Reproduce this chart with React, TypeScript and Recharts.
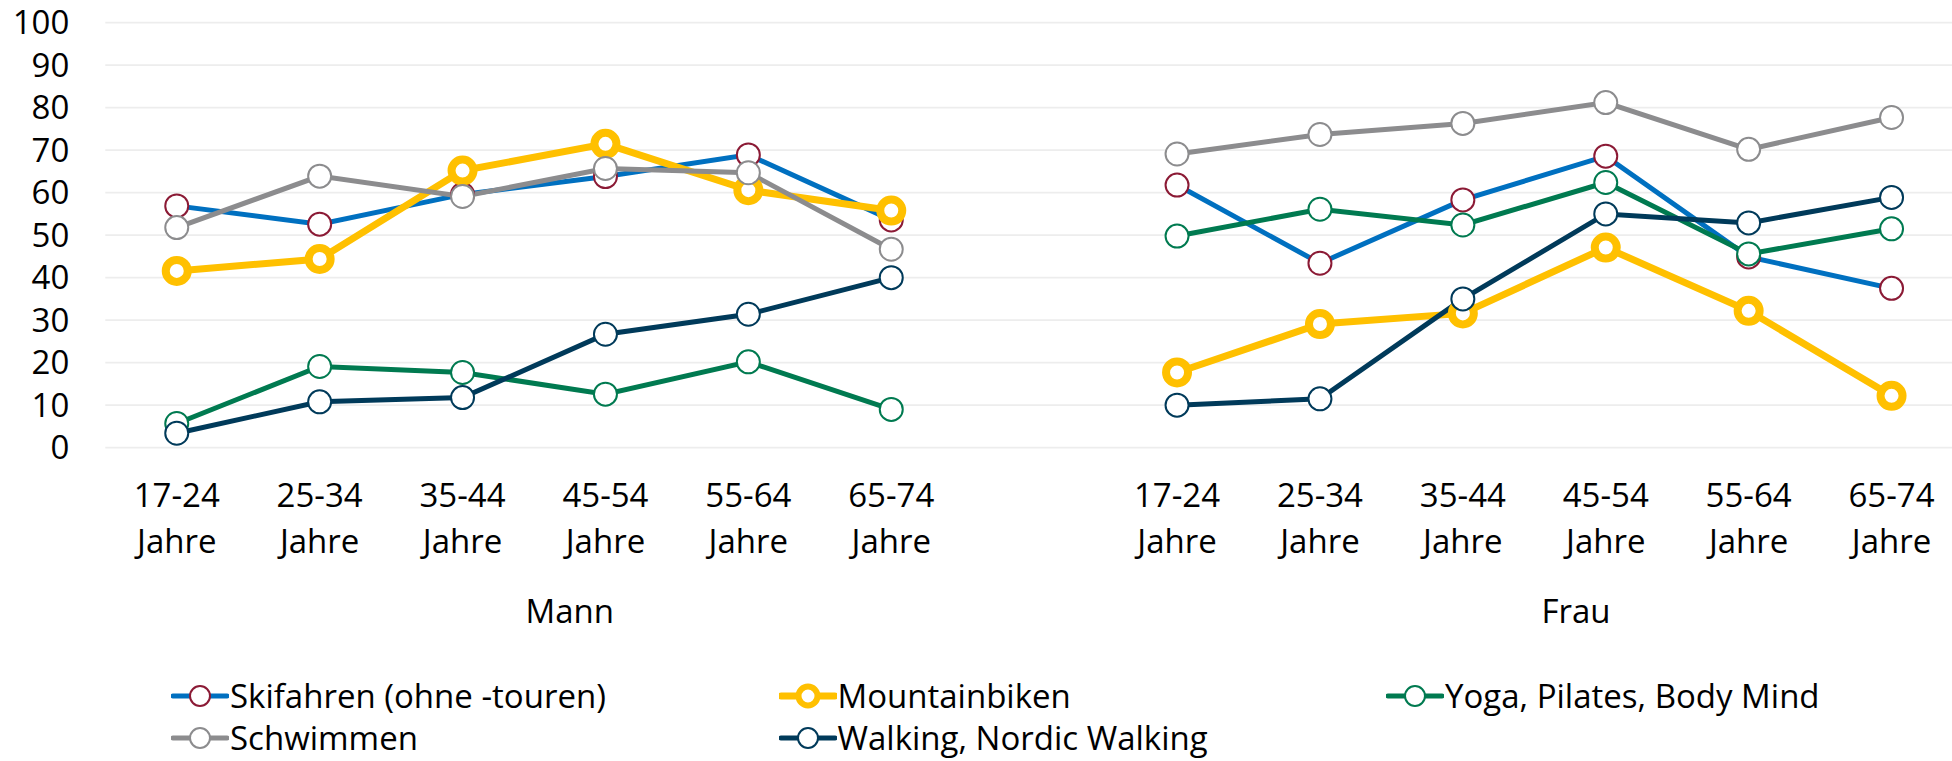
import React from 'react';
import { LineChart, Line, XAxis, YAxis, CartesianGrid, Legend } from 'recharts';

// ---------- data ----------
const genders = ['Mann', 'Frau'];
const ageGroups = ['17-24 Jahre', '25-34 Jahre', '35-44 Jahre', '45-54 Jahre', '55-64 Jahre', '65-74 Jahre'];
const yTicks = [0, 10, 20, 30, 40, 50, 60, 70, 80, 90, 100];

const skifahrenMann = [56.9, 52.6, 59.6, 63.8, 68.9, 53.6];
const skifahrenFrau = [61.8, 43.4, 58.3, 68.6, 44.9, 37.5];
const mountainbikenMann = [41.6, 44.4, 65.2, 71.5, 60.6, 55.8];
const mountainbikenFrau = [17.7, 29.1, 31.6, 47.1, 32.2, 12.2];
const yogaMann = [5.7, 19.1, 17.7, 12.6, 20.2, 9.0];
const yogaFrau = [49.8, 56.1, 52.4, 62.4, 45.6, 51.5];
const schwimmenMann = [51.8, 63.9, 59.1, 65.7, 64.7, 46.7];
const schwimmenFrau = [69.1, 73.7, 76.3, 81.2, 70.2, 77.7];
const walkingMann = [3.4, 10.8, 11.8, 26.7, 31.4, 40.0];
const walkingFrau = [10.0, 11.5, 35.0, 55.0, 52.9, 58.9];

const seriesNames = [
  'Skifahren (ohne -touren)',
  'Mountainbiken',
  'Yoga, Pilates, Body Mind',
  'Schwimmen',
  'Walking, Nordic Walking',
];
const seriesValues: Record<string, number[][]> = {
  'Skifahren (ohne -touren)': [skifahrenMann, skifahrenFrau],
  'Mountainbiken': [mountainbikenMann, mountainbikenFrau],
  'Yoga, Pilates, Body Mind': [yogaMann, yogaFrau],
  'Schwimmen': [schwimmenMann, schwimmenFrau],
  'Walking, Nordic Walking': [walkingMann, walkingFrau],
};

// ---------- styles ----------
const FONT = "'Open Sans', sans-serif";
const FS = 33;
const styles: Record<string, { line: string; marker: string; width: number; r: number; mw: number }> = {
  'Skifahren (ohne -touren)': { line: '#0070C0', marker: '#8B1A35', width: 5, r: 11.5, mw: 2 },
  'Mountainbiken': { line: '#FFC000', marker: '#FFC000', width: 7, r: 11, mw: 8 },
  'Yoga, Pilates, Body Mind': { line: '#007A50', marker: '#007A50', width: 5, r: 11.5, mw: 2 },
  'Schwimmen': { line: '#8C8C8E', marker: '#8C8C8E', width: 5, r: 11.5, mw: 2 },
  'Walking, Nordic Walking': { line: '#003A5A', marker: '#003A5A', width: 5, r: 11.5, mw: 2 },
};

// ---------- table ----------
type Row = Record<string, any>;
const table: Row[] = [];
const groupRanges: { name: string; start: number; end: number }[] = [];
genders.forEach((g, gi) => {
  const start = table.length;
  ageGroups.forEach((age, ai) => {
    const row: Row = { key: `${g}|${age}`, age };
    seriesNames.forEach((s) => {
      row[s] = seriesValues[s][gi][ai];
    });
    table.push(row);
  });
  if (gi < genders.length - 1) {
    const gap: Row = { key: `${g}|gap`, age: '' };
    seriesNames.forEach((s) => (gap[s] = null));
    table.push(gap);
  }
  groupRanges.push({ name: g, start, end: table.length - 1 });
});
const groupCenters = groupRanges.map((r) => (r.start + r.end) / 2);

const AgeTick = (props: any) => {
  const { x, y, payload } = props;
  const row = table.find((r) => r.key === payload.value);
  if (!row || !row.age) return null;
  const parts = String(row.age).split(' ');
  return (
    <text x={x} y={y} textAnchor="middle" fontSize={FS} fill="#000" fontFamily={FONT}>
      <tspan x={x} dy={59}>{parts[0]}</tspan>
      <tspan x={x} dy={46}>{parts[1]}</tspan>
    </text>
  );
};

const GroupTick = (props: any) => {
  const { x, y, payload } = props;
  const idx = groupCenters.indexOf(payload.value);
  if (idx < 0) return null;
  return (
    <text x={x} y={y + 25} textAnchor="middle" fontSize={FS} fill="#000" fontFamily={FONT}>
      {groupRanges[idx].name}
    </text>
  );
};

const LegendContent = () => (
  <div style={{ position: 'relative', height: 76, width: 1952, fontFamily: FONT }}>
    {seriesNames.map((s, i) => {
      const st = styles[s];
      return (
        <div
          key={s}
          style={{
            position: 'absolute',
            left: 171 + (i % 3) * 607.5,
            top: Math.floor(i / 3) * 42,
            height: 34,
            display: 'flex',
            alignItems: 'center',
            whiteSpace: 'nowrap',
          }}
        >
          <svg width={58} height={30} style={{ display: 'block' }}>
            <line x1={2} y1={15} x2={56} y2={15} stroke={st.line} strokeWidth={st.width} strokeLinecap="round" />
            <circle cx={29} cy={15} r={s === 'Mountainbiken' ? 9.5 : 10} fill="#fff" stroke={st.marker} strokeWidth={s === 'Mountainbiken' ? 6 : 2} />
          </svg>
          <span style={{ fontSize: FS, lineHeight: '34px', color: '#000', marginLeft: 1 }}>{s}</span>
        </div>
      );
    })}
  </div>
);

export default function App() {
  return (
    <div style={{ position: 'fixed', left: 0, top: 0, width: 1952, height: 761, overflow: 'hidden', background: '#fff' }}>
      <LineChart
        width={1963}
        height={761}
        data={table}
        margin={{ top: 22.7, right: 0, bottom: 37.3, left: 0 }}
        style={{ fontFamily: FONT }}
      >
        <CartesianGrid horizontal vertical={false} stroke="#EDEDED" strokeWidth={1.7} />
        <XAxis
          dataKey="key"
          type="category"
          scale="band"
          interval={0}
          tick={<AgeTick />}
          tickLine={false}
          axisLine={false}
          tickSize={0}
          tickMargin={0}
          height={150}
        />
        <XAxis
          xAxisId="group"
          type="number"
          domain={[-0.5, table.length - 0.5]}
          allowDataOverflow
          ticks={groupCenters}
          interval={0}
          tick={<GroupTick />}
          tickLine={false}
          axisLine={false}
          tickSize={0}
          tickMargin={0}
          height={50}
        />
        <YAxis
          type="number"
          domain={[0, 100]}
          ticks={yTicks}
          interval={0}
          width={105.3}
          tickLine={false}
          axisLine={false}
          tickSize={0}
          tickMargin={36}
          tick={{ fontSize: FS, fill: '#000', fontFamily: FONT }}
        />
        <Legend
          verticalAlign="bottom"
          height={76}
          wrapperStyle={{ top: 679, left: 0, width: 1952 }}
          content={<LegendContent />}
        />
        {seriesNames.map((s) => {
          const st = styles[s];
          return (
            <Line
              key={s}
              type="linear"
              dataKey={s}
              name={s}
              stroke={st.line}
              strokeWidth={st.width}
              connectNulls={false}
              isAnimationActive={false}
              activeDot={false}
              dot={{ r: st.r, fill: '#fff', stroke: st.marker, strokeWidth: st.mw }}
            />
          );
        })}
      </LineChart>
    </div>
  );
}
